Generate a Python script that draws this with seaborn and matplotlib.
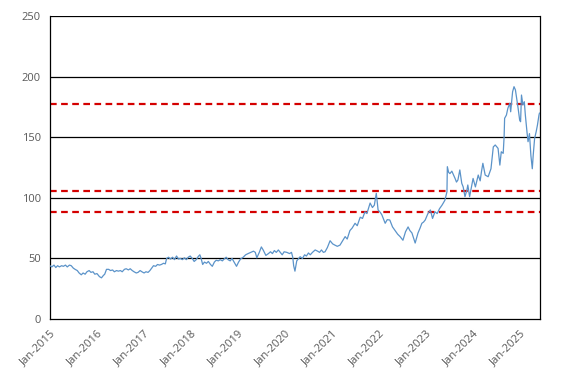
import matplotlib
matplotlib.use("Agg")
import matplotlib.pyplot as plt
import matplotlib.dates as mdates
import pandas as pd
import seaborn as sns

# price series
dates = [
    "2015-01-01", "2015-01-15", "2015-02-01", "2015-02-15", "2015-03-01", "2015-03-15",
    "2015-04-01", "2015-04-15", "2015-05-01", "2015-05-15", "2015-06-01", "2015-06-15",
    "2015-07-01", "2015-07-15", "2015-08-01", "2015-08-15", "2015-09-01", "2015-09-15",
    "2015-10-01", "2015-10-15", "2015-11-01", "2015-11-15", "2015-12-01", "2015-12-15",
    "2016-01-01", "2016-01-20", "2016-02-05", "2016-02-20", "2016-03-01", "2016-03-15",
    "2016-04-01", "2016-04-15", "2016-05-01", "2016-05-15", "2016-06-01", "2016-06-15",
    "2016-07-01", "2016-07-15", "2016-08-01", "2016-08-15", "2016-09-01", "2016-09-15",
    "2016-10-01", "2016-10-15", "2016-11-01", "2016-11-15", "2016-12-01", "2016-12-15",
    "2017-01-01", "2017-01-15", "2017-02-01", "2017-02-15", "2017-03-01", "2017-03-15",
    "2017-04-01", "2017-04-15", "2017-05-01", "2017-05-15", "2017-06-01", "2017-06-15",
    "2017-06-25", "2017-07-10", "2017-07-25", "2017-08-10", "2017-08-25", "2017-09-10",
    "2017-09-25", "2017-10-10", "2017-10-25", "2017-11-10", "2017-11-25", "2017-12-10",
    "2017-12-25", "2018-01-10", "2018-01-25", "2018-02-10", "2018-02-25", "2018-03-10",
    "2018-03-20", "2018-04-01", "2018-04-15", "2018-05-01", "2018-05-15", "2018-06-01",
    "2018-06-15", "2018-07-01", "2018-07-15", "2018-08-01", "2018-08-15", "2018-09-01",
    "2018-09-15", "2018-10-01", "2018-10-15", "2018-11-01", "2018-11-15", "2018-12-01",
    "2018-12-20", "2019-01-05", "2019-01-20", "2019-02-10", "2019-03-01", "2019-03-20",
    "2019-04-10", "2019-05-01", "2019-05-15", "2019-05-27", "2019-06-15", "2019-07-01",
    "2019-07-15", "2019-08-05", "2019-08-25", "2019-09-10", "2019-09-25", "2019-10-10",
    "2019-10-25", "2019-11-10", "2019-11-25", "2019-12-10", "2019-12-25", "2020-01-15",
    "2020-02-05", "2020-02-20", "2020-03-01", "2020-03-08", "2020-03-18", "2020-04-01",
    "2020-04-27", "2020-05-15", "2020-06-01", "2020-06-15", "2020-07-01", "2020-07-15",
    "2020-08-01", "2020-08-22", "2020-09-10", "2020-09-25", "2020-10-10", "2020-10-25",
    "2020-11-07", "2020-11-25", "2020-12-16", "2021-01-05", "2021-01-22", "2021-02-10",
    "2021-03-03", "2021-03-20", "2021-04-12", "2021-04-28", "2021-05-19", "2021-06-05",
    "2021-06-28", "2021-07-15", "2021-08-07", "2021-08-25", "2021-09-13", "2021-09-28",
    "2021-10-23", "2021-11-10", "2021-11-25", "2021-12-10", "2021-12-24", "2022-01-10",
    "2022-01-22", "2022-02-17", "2022-03-05", "2022-03-25", "2022-04-15", "2022-05-05",
    "2022-05-25", "2022-06-13", "2022-07-05", "2022-07-25", "2022-08-14", "2022-08-28",
    "2022-09-13", "2022-09-25", "2022-10-08", "2022-10-30", "2022-11-15", "2022-11-29",
    "2022-12-12", "2022-12-25", "2023-01-15", "2023-02-03", "2023-02-20", "2023-03-11",
    "2023-03-28", "2023-04-15", "2023-05-05", "2023-05-27", "2023-06-12", "2023-06-15",
    "2023-06-25", "2023-07-05", "2023-07-20", "2023-08-14", "2023-08-25", "2023-09-05",
    "2023-09-20", "2023-10-05", "2023-10-16", "2023-10-30", "2023-11-14", "2023-11-21",
    "2023-12-05", "2023-12-18", "2024-01-01", "2024-01-19", "2024-02-10", "2024-02-25",
    "2024-03-06", "2024-03-17", "2024-04-04", "2024-04-27", "2024-05-19", "2024-06-06",
    "2024-06-21", "2024-07-13", "2024-07-27", "2024-08-07", "2024-08-22", "2024-08-29",
    "2024-09-02", "2024-09-16", "2024-09-27", "2024-10-12", "2024-10-19", "2024-11-03",
    "2024-11-14", "2024-11-25", "2024-12-05", "2024-12-16", "2024-12-28", "2025-01-04",
    "2025-01-11", "2025-01-22", "2025-02-02", "2025-02-10", "2025-02-24", "2025-03-03",
    "2025-03-14", "2025-03-25", "2025-04-05", "2025-04-12", "2025-04-23", "2025-05-05",
    "2025-05-15", "2025-05-27", "2025-05-31",
]
price = [
    44, 43, 44.5, 42.5, 44, 43,
    44, 43.5, 44.5, 43, 44.5, 44,
    42, 41, 40, 38, 36.5, 38,
    37, 39, 40, 38.5, 39, 37,
    37.5, 35, 34, 36, 37, 41,
    41, 40, 40.5, 39, 40, 39.5,
    40, 39, 41, 41.5, 40.5, 41.5,
    40, 39, 38, 38.5, 40, 39,
    38, 39, 38.5, 40, 42, 44,
    43.5, 45, 44.5, 45, 46, 45.5,
    50, 51, 49.5, 51, 49, 52,
    49.5, 50, 49, 50.5, 49, 51,
    52, 50, 47.5, 49, 51.5, 53,
    50, 45, 47, 46, 47.5, 45,
    43.5, 47, 48.5, 48, 49, 48,
    49.5, 51, 49, 48, 50, 47,
    43.5, 47, 49.5, 51, 53, 54,
    55, 56, 55, 50.5, 55, 59.5,
    57, 52.5, 54, 55.5, 54, 56.5,
    55, 57, 55, 53, 55.5, 55,
    54, 55, 51, 44, 39.5, 48,
    51.4, 50, 53, 52, 54.5, 53,
    55, 57, 56, 55, 57, 55,
    55.5, 59, 64.6, 62, 61, 60,
    61, 64, 68, 66, 73, 75,
    79, 77, 84, 83, 88.5, 87,
    95.7, 92, 94, 103.7, 90, 88,
    86, 79, 82, 81.7, 76, 73,
    70, 68, 65, 72, 76, 73,
    71, 67, 62.7, 71, 75, 79,
    80, 81.7, 87, 90, 83, 88.5,
    87, 91, 94, 98, 105, 125.7,
    121, 120, 122, 116, 113, 114.7,
    123, 112, 109, 101, 106.4, 110.6,
    101, 108, 116, 109, 118.8, 114,
    121.5, 128.5, 118.8, 117.4, 124, 142,
    143.6, 140.8, 127, 138, 136.7, 150.4,
    165.6, 168.3, 173.8, 178, 171, 187.5,
    191.7, 189, 182, 173.8, 164, 162.8,
    184.8, 176.6, 179.3, 168.3, 153, 146.3,
    153, 135, 124, 135, 149, 154.5,
    160, 168.3, 170,
]

# horizontal reference levels (red dashed)
levels = [177.5, 105.5, 88.5]

df = pd.DataFrame({"date": pd.to_datetime(dates), "price": price})

sns.set_style("white")
plt.rcParams["font.family"] = ["Open Sans", "DejaVu Sans"]

fig = plt.figure(figsize=(5.67, 3.83), dpi=100)
ax = fig.add_axes([0.0882, 0.167, 0.8633, 0.7912])

for v in [50, 100, 150, 200, 250]:
    ax.axhline(v, color="black", lw=0.9, zorder=1)

for lv in levels:
    ax.axhline(lv, color="#d40000", lw=1.6, ls=(0, (3, 2)), zorder=2)

sns.lineplot(data=df, x="date", y="price", ax=ax, color="#5b93c9", lw=0.9, zorder=3)

ax.set_xlim(pd.Timestamp("2015-01-01"), pd.Timestamp("2025-05-31"))
ax.set_ylim(0, 250)
ax.set_yticks([0, 50, 100, 150, 200, 250])
ax.xaxis.set_major_locator(mdates.YearLocator())
ax.xaxis.set_major_formatter(mdates.DateFormatter("%b-%Y"))
ax.set_xlabel("")
ax.set_ylabel("")

for s in ["left", "bottom", "right"]:
    ax.spines[s].set_color("black")
    ax.spines[s].set_linewidth(0.9)
ax.spines["top"].set_visible(False)

ax.tick_params(axis="both", colors="#595959", labelsize=8, length=3, width=0.9, direction="out")
ax.tick_params(axis="both", color="black")
plt.setp(ax.get_xticklabels(), rotation=45, ha="right", rotation_mode="anchor")

fig.savefig("out.png", dpi=100)
